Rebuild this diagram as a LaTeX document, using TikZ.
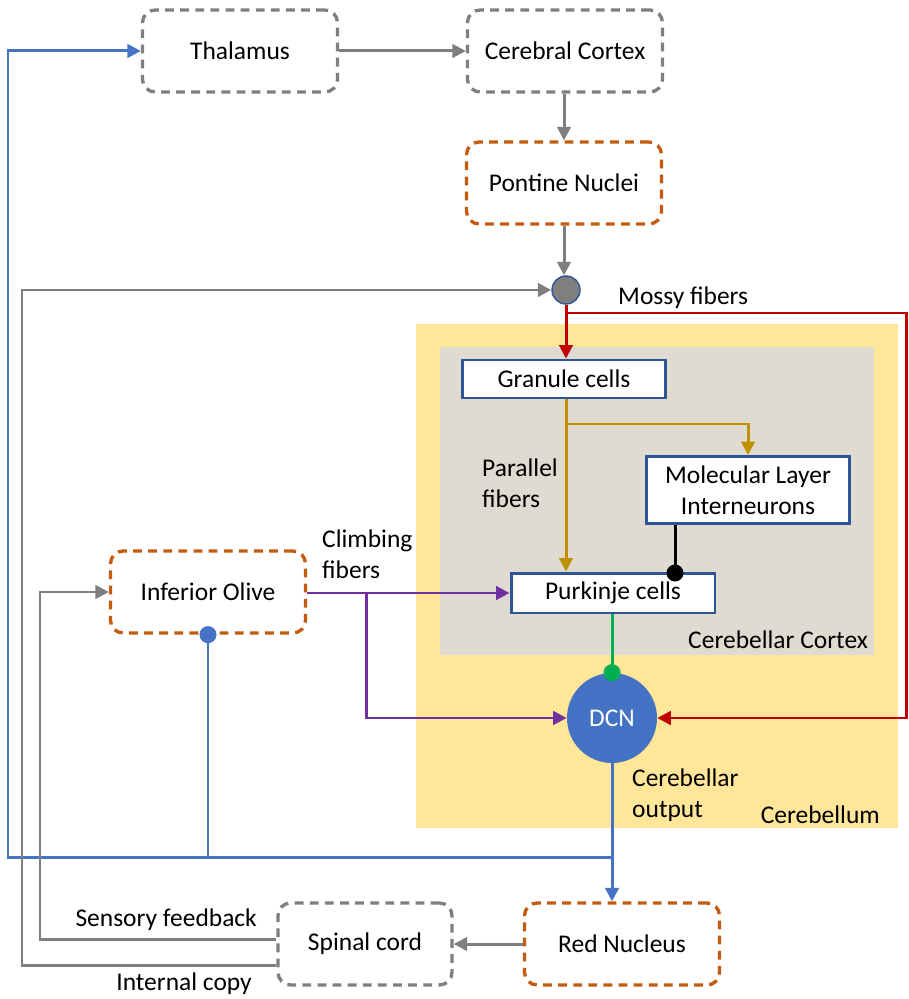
\documentclass[tikz,border=0pt]{standalone}
\usepackage{fontspec}
\setmainfont{Carlito}
\usepackage{tikz}
\usetikzlibrary{arrows.meta}
\definecolor{fgray}{HTML}{7F7F7F}
\definecolor{forange}{HTML}{C55A11}
\definecolor{fblue}{HTML}{4472C4}
\definecolor{fnavy}{HTML}{2F5597}
\definecolor{fred}{HTML}{C00000}
\definecolor{fgold}{HTML}{BF9000}
\definecolor{fpurple}{HTML}{7030A0}
\definecolor{fgreen}{HTML}{00B050}
\definecolor{fyellow}{HTML}{FFE699}
\definecolor{fcortex}{HTML}{E0DBD1}
\tikzstyle{gbox} = [rectangle, rounded corners=0.25cm, draw=fgray, dash pattern=on 5pt off 3.6pt, line width=1.9pt, minimum width=3.9cm, minimum height=1.64cm]
\tikzstyle{obox} = [gbox, draw=forange]
\tikzstyle{cbox} = [rectangle, draw=fnavy, fill=white, line width=1.7pt, minimum width=4.06cm]
\tikzstyle{line} = [draw, line width=1.7pt]
\tikzstyle{arr} = [line, -{Triangle[length=0.27cm, width=0.27cm]}]
\tikzstyle{balltip} = [line, -{Circle[length=0.34cm]}, shorten >=-0.17cm]

\begin{document}
\begin{tikzpicture}[x=0.02cm, y=-0.02cm, font=\fontsize{14.5}{17.5}\selectfont]
			\useasboundingbox (0,0) rectangle (908,999);
			\fill [fyellow] (416,324) rectangle (898,828);
			\fill [fcortex] (440,347) rectangle (874,655);
			
			\node [gbox] (thal) at (240,51) {Thalamus};
			\node [gbox] (cortex) at (565,51) {Cerebral Cortex};
			\node [obox] (pont) at (564,183) {Pontine Nuclei};
			\node [circle, fill=fgray, draw=fnavy, line width=0.8pt, minimum size=0.56cm, inner sep=0pt] (junc) at (566,290) {};
			\node [cbox, minimum height=0.76cm] (gran) at (564,379) {Granule cells};
			\node [cbox, minimum height=1.34cm, align=center] (mli) at (748,490) {Molecular Layer\\Interneurons};
			\node [cbox, minimum height=0.8cm, minimum width=4.08cm] (purk) at (613,593) {Purkinje cells};
			\node [circle, fill=fblue, minimum size=1.8cm, text=white] (dcn) at (612,718) {DCN};
			\node [obox] (olive) at (208,592) {Inferior Olive};
			\node [gbox, minimum width=3.48cm] (spinal) at (365,944) {Spinal cord};
			\node [obox] (red) at (622,944) {Red Nucleus};
			
			\coordinate (mossy) at (566,313);
			\coordinate (mossyR) at (906,313);
			\coordinate (par) at (566,424);
			\coordinate (inh) at (675,573);
			\coordinate (climb) at (366,593);
			\coordinate (outJ) at (612,857);
			\coordinate (oliveJ) at (208,857);
			\coordinate (outL) at (8,857);
			\coordinate (sfL) at (40,939);
			\coordinate (icL) at (22,965);
			
			\path [arr, fgray] (thal) -- (cortex);
			\path [arr, fgray] (cortex.south -| pont) -- (pont);
			\path [arr, fgray] (pont) -- (pont |- junc.north);
			\path [arr, fred] (junc) -- (junc |- gran.north);
			\path [arr, fred] (mossy) -- (mossyR) |- (dcn);
			\path [line, fgold] (gran.south -| par) -- (par);
			\path [arr, fgold] (par) -- (par |- purk.north);
			\path [arr, fgold] (par) -| (mli);
			\path [balltip, black] (mli.south -| inh) -- (inh);
			\path [balltip, fgreen] (purk.south -| dcn) -- (dcn.north);
			\path [arr, fpurple] (olive.east |- climb) -- (purk.west |- climb);
			\path [arr, fpurple] (climb) |- (dcn);
			\path [arr, fblue] (dcn) -- (dcn |- red.north);
			\path [arr, fblue] (outJ) -- (outL) |- (thal);
			\path [balltip, fblue] (oliveJ) -- (olive);
			\path [arr, fgray] (spinal.west |- sfL) -- (sfL) |- (olive);
			\path [arr, fgray] (spinal.west |- icL) -- (icL) |- (junc);
			\path [arr, fgray] (red) -- (spinal);
			
			\node [anchor=west] (mossylbl) at (612,298) {Mossy fibers};
			\node [anchor=west, align=left] (parlbl) at (476,483) {Parallel\\fibers};
			\node [anchor=west, align=left] (climblbl) at (316,554) {Climbing\\fibers};
			\node [anchor=east] (ctxlbl) at (874,640) {Cerebellar Cortex};
			\node [anchor=west, align=left] (outlbl) at (626,795) {Cerebellar\\output};
			\node [anchor=east] (cblbl) at (886,815) {Cerebellum};
			\node [anchor=east] (sflbl) at (263,920) {Sensory feedback};
			\node [anchor=east] (iclbl) at (258,984) {Internal copy};
		\end{tikzpicture}
\end{document}
